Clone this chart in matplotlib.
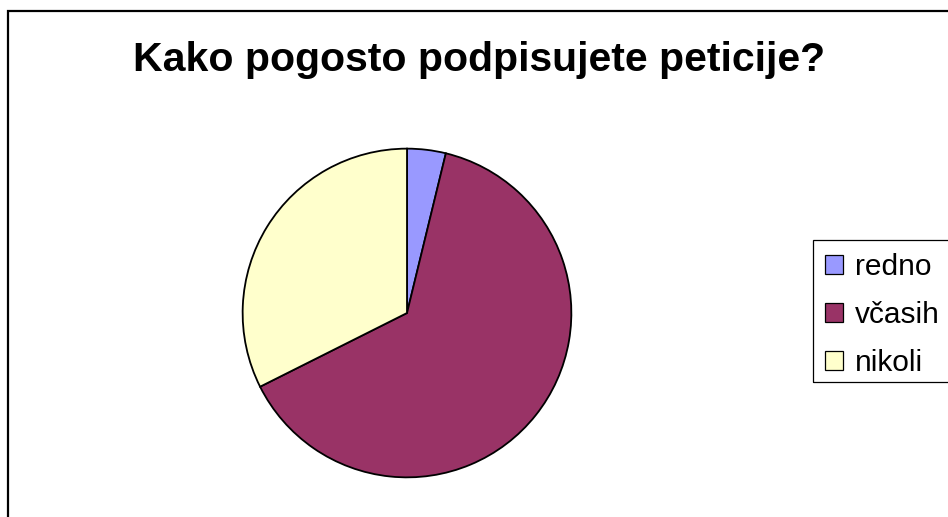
import matplotlib.pyplot as plt
from matplotlib.patches import Rectangle

plt.rcParams['font.family'] = ['Liberation Sans', 'DejaVu Sans']

# survey answers (share of respondents, %)
labels = ['redno', 'včasih', 'nikoli']
values = [3.8, 63.8, 32.4]
colors = ['#9999FF', '#993366', '#FFFFCC']

W, H = 948, 517
fig = plt.figure(figsize=(W / 100, H / 100), dpi=100)

# outer chart frame (runs off the right and bottom edge like the reference)
fig.patches.append(Rectangle((7.5 / W, -0.1), 1.2, (H - 10.5) / H + 0.1,
                             transform=fig.transFigure, fill=False,
                             edgecolor='black', linewidth=1.6))

# pie centred at (407, 313) px with radius 166 px
cx, cy, r = 407, 313, 166
ax = fig.add_axes([(cx - r) / W, (H - cy - r) / H, 2 * r / W, 2 * r / H])
wedges, _ = ax.pie(values, colors=colors, startangle=90, counterclock=False,
                   radius=1, wedgeprops=dict(edgecolor='black', linewidth=1.3))
ax.set_xlim(-1.01, 1.01)
ax.set_ylim(-1.01, 1.01)
ax.set_aspect('auto')
ax.axis('off')

fig.text(479 / W, (H - 71) / H, 'Kako pogosto podpisujete peticije?',
         ha='center', va='baseline', fontsize=29.5, fontweight='bold')

# legend box
fig.patches.append(Rectangle((813 / W, (H - 382) / H), 0.5, 142 / H,
                             transform=fig.transFigure, fill=False,
                             edgecolor='black', linewidth=0.9))
leg = fig.legend(wedges, labels, loc='center left',
                 bbox_to_anchor=(825 / W, (H - 315) / H),
                 frameon=False, fontsize=21.5, borderpad=0, borderaxespad=0,
                 handlelength=0.6, handleheight=0.6, handletextpad=0.4,
                 labelspacing=0.68)
for h in leg.legend_handles:
    h.set_linewidth(0.9)

fig.savefig('out.png', dpi=100)
